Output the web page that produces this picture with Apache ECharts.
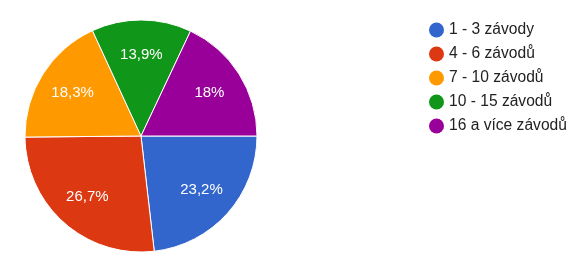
<!DOCTYPE html>
<html><head><meta charset="utf-8">
<script src="https://cdn.jsdelivr.net/npm/echarts@6/dist/echarts.min.js"></script>
<style>html,body{margin:0;padding:0;background:#fff}#c{width:583px;height:269px}</style>
</head><body><div id="c"></div>
<script>
const categories = ['1 - 3 závody', '4 - 6 závodů', '7 - 10 závodů', '10 - 15 závodů', '16 a více závodů'];
const values = [23.2, 26.7, 18.3, 13.9, 18];
const labels = ['23,2%', '26,7%', '18,3%', '13,9%', '18%'];
const colors = ['#3366cc', '#dc3912', '#ff9900', '#109618', '#990099'];

const chart = echarts.init(document.getElementById('c'), null, {renderer: 'canvas'});
const data = categories.map((n, i) => ({name: n, value: values[i], label: {formatter: labels[i]}}));
chart.setOption({
  animation: false,
  color: colors,
  legend: {
    orient: 'vertical', left: 424, top: 17,
    icon: 'circle', itemWidth: 15, itemHeight: 15, itemGap: 8,
    itemStyle: {borderWidth: 0},
    textStyle: {fontFamily: 'Liberation Sans, Arial', fontSize: 15.6, color: '#222', padding: [0,0,0,0], lineHeight: 16},
    data: categories
  },
  series: [{
    type: 'pie', center: [141, 136], radius: [0, 116], startAngle: 0, clockwise: true,
    avoidLabelOverlap: false,
    itemStyle: {borderColor: '#fff', borderWidth: 1},
    label: {show: false}, labelLine: {show: false}, silent: true,
    data: data
  }, {
    type: 'pie', center: [141, 136], radius: [40, 116], startAngle: 0, clockwise: true,
    avoidLabelOverlap: false, silent: true, legendHoverLink: false,
    itemStyle: {color: 'rgba(0,0,0,0)'},
    label: {show: true, position: 'inside', color: '#fff', fontFamily: 'Liberation Sans, Arial', fontSize: 15},
    labelLine: {show: false},
    data: data.map(d => ({name: d.name + ' ', value: d.value, label: d.label}))
  }]
});
</script></body></html>
